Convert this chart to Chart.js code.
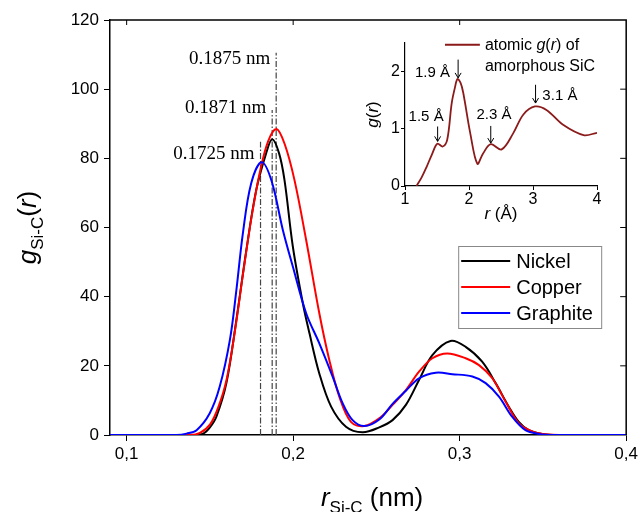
<!DOCTYPE html>
<html lang="en">
<head>
<meta charset="UTF-8">
<title>Si-C pair distribution function</title>
<script src="https://cdn.jsdelivr.net/npm/chart.js"></script>
<style>
  body { margin: 0; background: #fff; }
  #wrap { position: relative; width: 641px; height: 512px; }
  #mainChart { position: absolute; left: 0; top: 0; }
  #insetChart { position: absolute; left: 360px; top: 20px; }
</style>
</head>
<body>
<div id="wrap">
  <canvas id="mainChart" width="641" height="512"></canvas>
  <canvas id="insetChart" width="281" height="205"></canvas>
</div>
<script>
// main panel: g_Si-C(r), r in nm
const nickelR = [0.09, 0.140, 0.146, 0.150, 0.1539, 0.1599, 0.1659, 0.1719, 0.1778, 0.1838, 0.1874, 0.1915, 0.1948, 0.1998, 0.2058, 0.2098, 0.2157, 0.2228, 0.2317, 0.2417, 0.2517, 0.2597, 0.2677, 0.2756, 0.2836, 0.2945, 0.3036, 0.3135, 0.3216, 0.3295, 0.3355, 0.3415, 0.3495, 0.360, 0.400];
const nickelG = [0, 0, 0.4, 2.2, 5.3, 15, 33.3, 53.5, 70.8, 81.5, 85.5, 81.5, 73.7, 54.5, 38.1, 29.4, 17.8, 8.2, 2.4, 0.8, 2.2, 4.3, 8.7, 15.9, 23.1, 27.2, 25.5, 21.2, 15, 8.2, 3.8, 1.4, 0.3, 0, 0];

const copperR = [0.09, 0.138, 0.144, 0.150, 0.155, 0.160, 0.165, 0.170, 0.175, 0.180, 0.185, 0.190, 0.195, 0.2008, 0.2078, 0.2157, 0.2217, 0.2277, 0.2347, 0.2427, 0.2517, 0.2597, 0.2677, 0.2756, 0.2836, 0.2926, 0.3036, 0.3116, 0.3196, 0.3276, 0.3355, 0.3435, 0.3515, 0.360, 0.400];
const copperG = [0, 0, 0.6, 3, 8, 16, 30, 47, 63, 76, 85, 88.5, 84, 73.7, 56.4, 35.2, 21.7, 11.1, 3.8, 2.6, 4.8, 8.7, 13, 18.3, 22.2, 23.6, 22.2, 20.2, 16.4, 9.6, 3.4, 1.0, 0.2, 0, 0];

const graphiteR = [0.09, 0.130, 0.136, 0.142, 0.1499, 0.1559, 0.162, 0.1659, 0.1698, 0.1748, 0.181, 0.187, 0.1938, 0.1998, 0.2078, 0.2157, 0.2237, 0.2297, 0.2357, 0.2427, 0.2517, 0.2597, 0.2677, 0.2756, 0.2856, 0.2956, 0.3076, 0.3156, 0.3236, 0.3315, 0.3395, 0.3475, 0.356, 0.400];
const graphiteG = [0, 0, 0.4, 1.4, 6.3, 14, 27.5, 41.9, 58.3, 72.8, 78.9, 73.5, 59.3, 48.7, 35.2, 26.5, 16.9, 9.2, 4.3, 2.6, 4.5, 9.0, 12.8, 16.4, 18, 17.6, 16.9, 15, 11.1, 5.3, 1.4, 0.3, 0, 0];

const xTicks = [0.1, 0.2, 0.3, 0.4];
const yTicks = [0, 20, 40, 60, 80, 100, 120];

// dash-dot lines at the first-peak positions (graphite, nickel, copper)
const peakR = [0.1804, 0.1874, 0.1898];
const peakTop = [84.8, 94, 110.5];
const peakText = ['0.1725 nm', '0.1871 nm', '0.1875 nm'];
const peakTextY = [81.3, 94.6, 108.7];

// inset: atomic g(r) of amorphous SiC, r in Angstrom
const insetR = [1.18, 1.26, 1.34, 1.42, 1.505, 1.59, 1.66, 1.73, 1.78, 1.82, 1.87, 1.91, 2.02, 2.13, 2.22, 2.34, 2.51, 2.69, 2.85, 3.03, 3.21, 3.47, 3.79, 4.0];
const insetG = [0, 0.15, 0.34, 0.55, 0.74, 0.69, 0.81, 1.45, 1.72, 1.87, 1.8, 1.63, 0.92, 0.39, 0.57, 0.73, 0.64, 0.92, 1.25, 1.39, 1.33, 1.07, 0.89, 0.93];
const insetXTicks = [1, 2, 3, 4];
const insetYTicks = [0, 1, 2];

const arrowR = [1.51, 1.83, 2.34, 3.04];
const arrowFrom = [1.04, 2.21, 1.05, 1.77];
const arrowTo = [0.78, 1.89, 0.75, 1.45];
const arrowText = ['1.5 Å', '1.9 Å', '2.3 Å', '3.1 Å'];
const arrowTextR = [1.33, 1.43, 2.39, 3.42];
const arrowTextG = [1.21, 1.98, 1.25, 1.58];

const sans = "'Liberation Sans', Arial, sans-serif";
const serif = "'Liberation Serif', 'Times New Roman', serif";

function toXY(xs, ys) {
  return xs.map((x, i) => ({ x: x, y: ys[i] }));
}

// draw a row of text pieces with different fonts / baseline shifts
function drawRuns(ctx, runs, x, y, align) {
  let total = 0;
  runs.forEach(r => { ctx.font = r.font; total += ctx.measureText(r.text).width; });
  let cx = align === 'center' ? x - total / 2 : (align === 'right' ? x - total : x);
  ctx.textAlign = 'left';
  runs.forEach(r => {
    ctx.font = r.font;
    ctx.fillText(r.text, cx, y + (r.dy || 0));
    cx += ctx.measureText(r.text).width;
  });
}

const curveStyle = { pointRadius: 0, borderWidth: 2, fill: false, tension: 0.35 };

const series = [
  { label: 'Nickel', r: nickelR, g: nickelG, color: '#000000', order: 2 },
  { label: 'Copper', r: copperR, g: copperG, color: '#ff0000', order: 1 },
  { label: 'Graphite', r: graphiteR, g: graphiteG, color: '#0000ff', order: 0 }
];

const datasets = series.map(s => Object.assign({
  label: s.label, data: toXY(s.r, s.g), borderColor: s.color, order: s.order
}, curveStyle));

peakR.forEach((r, i) => {
  datasets.push({
    label: peakText[i],
    data: [{ x: r, y: 0 }, { x: r, y: peakTop[i] }],
    borderColor: '#444',
    borderWidth: 1.2,
    borderDash: [6, 2, 1.5, 2],
    pointRadius: 0,
    order: 5
  });
});

const mainDecor = {
  id: 'mainDecor',
  afterDraw(chart) {
    const { ctx, chartArea: a, scales: { x, y } } = chart;
    ctx.save();
    ctx.strokeStyle = '#000';
    ctx.lineWidth = 1.5;
    ctx.beginPath();
    ctx.moveTo(a.left, a.top);
    ctx.lineTo(a.right, a.top);
    ctx.lineTo(a.right, a.bottom);
    ctx.stroke();

    // inward ticks on top and right
    ctx.lineWidth = 1;
    ctx.beginPath();
    xTicks.forEach(v => {
      const px = x.getPixelForValue(v);
      if (px < a.right - 2) { ctx.moveTo(px, a.top); ctx.lineTo(px, a.top + 5); }
    });
    yTicks.forEach(v => {
      const py = y.getPixelForValue(v);
      if (py > a.top + 2 && py < a.bottom - 2) { ctx.moveTo(a.right, py); ctx.lineTo(a.right - 6, py); }
    });
    ctx.stroke();

    // peak position labels
    ctx.fillStyle = '#000';
    ctx.font = '19px ' + serif;
    ctx.textAlign = 'right';
    ctx.textBaseline = 'middle';
    peakText.forEach((t, i) => {
      ctx.fillText(t, x.getPixelForValue(peakR[i]) - 6, y.getPixelForValue(peakTextY[i]));
    });

    // legend box
    const bx = a.right - 168, by = a.top + 226, bw = 143, bh = 82;
    ctx.fillStyle = '#fff';
    ctx.fillRect(bx, by, bw, bh);
    ctx.strokeStyle = '#888';
    ctx.lineWidth = 1;
    ctx.strokeRect(bx + 0.5, by + 0.5, bw, bh);
    ctx.font = '20px ' + sans;
    ctx.textAlign = 'left';
    ctx.textBaseline = 'middle';
    series.forEach((s, i) => {
      const ly = by + 15 + i * 26;
      ctx.strokeStyle = s.color;
      ctx.lineWidth = 2;
      ctx.beginPath();
      ctx.moveTo(bx + 3, ly);
      ctx.lineTo(bx + 52, ly);
      ctx.stroke();
      ctx.fillStyle = '#000';
      ctx.fillText(s.label, bx + 58, ly + 1);
    });

    // axis titles
    ctx.fillStyle = '#000';
    ctx.textBaseline = 'alphabetic';
    drawRuns(ctx, [
      { text: 'r', font: 'italic 26px ' + sans },
      { text: 'Si-C', font: '17px ' + sans, dy: 7 },
      { text: ' (nm)', font: '26px ' + sans }
    ], (a.left + a.right) / 2 + 4, 506, 'center');

    ctx.translate(36, (a.top + a.bottom) / 2);
    ctx.rotate(-Math.PI / 2);
    drawRuns(ctx, [
      { text: 'g', font: 'italic 26px ' + sans },
      { text: 'Si-C', font: '17px ' + sans, dy: 7 },
      { text: '(', font: '26px ' + sans },
      { text: 'r', font: 'italic 26px ' + sans },
      { text: ')', font: '26px ' + sans }
    ], 0, 0, 'center');
    ctx.restore();
  }
};

const commaFmt = v => v.toFixed(1).replace('.', ',');

new Chart(document.getElementById('mainChart'), {
  type: 'line',
  data: { datasets: datasets },
  options: {
    responsive: false,
    animation: false,
    events: [],
    layout: { padding: { top: 20, right: 14, left: 0, bottom: 0 } },
    plugins: { legend: { display: false }, tooltip: { enabled: false } },
    scales: {
      x: {
        type: 'linear', min: 0.09, max: 0.4,
        afterBuildTicks: s => { s.ticks = xTicks.map(v => ({ value: v })); },
        afterFit: s => { s.height = 77; },
        grid: { drawOnChartArea: false, tickLength: 6, color: '#000' },
        border: { color: '#000', width: 1.5 },
        ticks: { callback: commaFmt, font: { family: sans, size: 17 }, color: '#000', padding: 3, maxRotation: 0 }
      },
      y: {
        min: 0, max: 120,
        afterBuildTicks: s => { s.ticks = yTicks.map(v => ({ value: v })); },
        afterFit: s => { s.width = 110; },
        grid: { drawOnChartArea: false, tickLength: 6, color: '#000' },
        border: { color: '#000', width: 1.5 },
        ticks: { font: { family: sans, size: 17 }, color: '#000', padding: 5 }
      }
    }
  },
  plugins: [mainDecor]
});

const insetDecor = {
  id: 'insetDecor',
  afterDraw(chart) {
    const { ctx, chartArea: a, scales: { x, y } } = chart;
    ctx.save();
    ctx.fillStyle = '#000';
    ctx.strokeStyle = '#000';
    ctx.lineWidth = 1;

    // peak arrows and labels
    ctx.font = '15px ' + sans;
    ctx.textAlign = 'center';
    ctx.textBaseline = 'middle';
    arrowR.forEach((r, i) => {
      const px = x.getPixelForValue(r);
      const y0 = y.getPixelForValue(arrowFrom[i]);
      const y1 = y.getPixelForValue(arrowTo[i]);
      ctx.beginPath();
      ctx.moveTo(px, y0);
      ctx.lineTo(px, y1);
      ctx.moveTo(px - 3, y1 - 5);
      ctx.lineTo(px, y1);
      ctx.lineTo(px + 3, y1 - 5);
      ctx.stroke();
      ctx.fillText(arrowText[i], x.getPixelForValue(arrowTextR[i]), y.getPixelForValue(arrowTextG[i]));
    });

    // legend
    const lx0 = x.getPixelForValue(1.625), lx1 = x.getPixelForValue(2.17);
    const ly = y.getPixelForValue(2.47);
    ctx.strokeStyle = '#8b1a1a';
    ctx.lineWidth = 2;
    ctx.beginPath();
    ctx.moveTo(lx0, ly);
    ctx.lineTo(lx1, ly);
    ctx.stroke();
    ctx.textBaseline = 'alphabetic';
    drawRuns(ctx, [
      { text: 'atomic ', font: '16px ' + sans },
      { text: 'g', font: 'italic 16px ' + sans },
      { text: '(', font: '16px ' + sans },
      { text: 'r', font: 'italic 16px ' + sans },
      { text: ') of', font: '16px ' + sans }
    ], lx1 + 5, ly + 5, 'left');
    ctx.font = '16px ' + sans;
    ctx.fillText('amorphous SiC', lx1 + 5, ly + 26);

    // axis titles
    drawRuns(ctx, [
      { text: 'r', font: 'italic 17px ' + sans },
      { text: ' (Å)', font: '17px ' + sans }
    ], (a.left + a.right) / 2, 199, 'center');
    ctx.translate(18, (a.top + a.bottom) / 2);
    ctx.rotate(-Math.PI / 2);
    drawRuns(ctx, [
      { text: 'g', font: 'italic 17px ' + sans },
      { text: '(', font: '17px ' + sans },
      { text: 'r', font: 'italic 17px ' + sans },
      { text: ')', font: '17px ' + sans }
    ], 0, 0, 'center');
    ctx.restore();
  }
};

new Chart(document.getElementById('insetChart'), {
  type: 'line',
  data: {
    datasets: [{
      label: 'atomic g(r) of amorphous SiC',
      data: toXY(insetR, insetG),
      borderColor: '#8b1a1a',
      borderWidth: 1.8,
      pointRadius: 0,
      fill: false,
      tension: 0.35
    }]
  },
  options: {
    responsive: false,
    animation: false,
    events: [],
    layout: { padding: { top: 23, right: 44, left: 0, bottom: 0 } },
    plugins: { legend: { display: false }, tooltip: { enabled: false } },
    scales: {
      x: {
        type: 'linear', min: 1, max: 4,
        afterBuildTicks: s => { s.ticks = insetXTicks.map(v => ({ value: v })); },
        afterFit: s => { s.height = 39; },
        grid: { drawOnChartArea: false, tickLength: 4, color: '#000' },
        border: { color: '#000', width: 1.2 },
        ticks: { font: { family: sans, size: 16 }, color: '#000', padding: 0, maxRotation: 0 }
      },
      y: {
        min: 0, max: 2.5,
        afterBuildTicks: s => { s.ticks = insetYTicks.map(v => ({ value: v })); },
        afterFit: s => { s.width = 45; },
        grid: { drawOnChartArea: false, tickLength: 4, color: '#000' },
        border: { color: '#000', width: 1.2 },
        ticks: { font: { family: sans, size: 16 }, color: '#000', padding: 1 }
      }
    }
  },
  plugins: [insetDecor]
});
</script>
</body>
</html>
